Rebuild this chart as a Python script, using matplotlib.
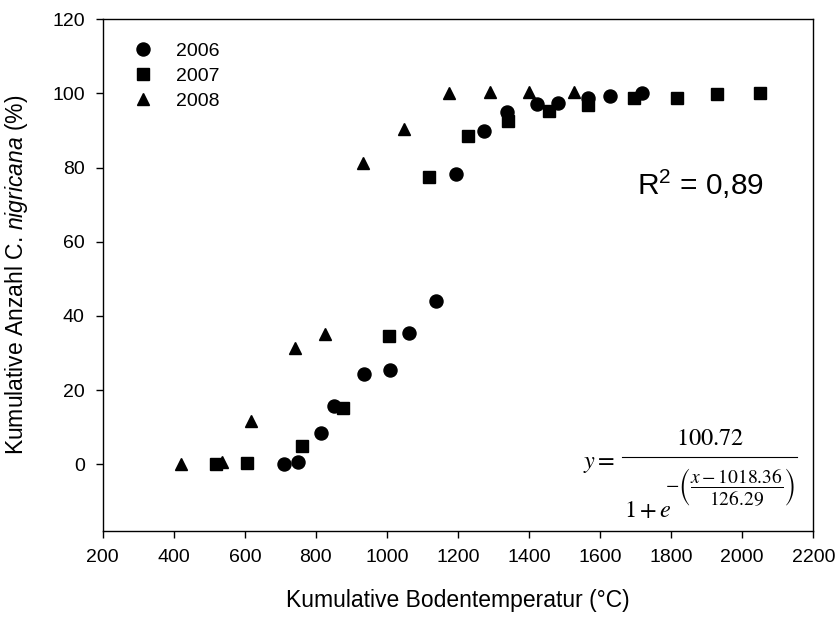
import numpy as np
import matplotlib
matplotlib.use("Agg")
import matplotlib.pyplot as plt
from matplotlib.lines import Line2D

plt.rcParams.update({
    "font.family": "Liberation Sans",
    "font.size": 14,
    "mathtext.fontset": "custom",
    "mathtext.rm": "Liberation Sans",
    "mathtext.it": "Liberation Sans:italic",
    "mathtext.bf": "Liberation Sans:bold",
})

# data
x_2006 = [710, 749, 814, 850, 936, 1008, 1063, 1137, 1193, 1273, 1338, 1421, 1482, 1567, 1629, 1719]
y_2006 = [0, 0.5, 8.5, 15.7, 24.3, 25.3, 35.5, 44, 78.4, 90, 94.9, 97.2, 97.5, 98.7, 99.4, 100.2]

x_2007 = [520, 605, 760, 876, 1007, 1118, 1228, 1342, 1457, 1565, 1696, 1816, 1928, 2049]
y_2007 = [0, 0.4, 4.9, 15.2, 34.6, 77.5, 88.5, 92.5, 95.2, 96.9, 98.7, 98.7, 99.9, 100.1]

x_2008 = [421, 537, 616, 741, 825, 933, 1048, 1174, 1290, 1399, 1526]
y_2008 = [0, 0.6, 11.7, 31.4, 35.2, 81.3, 90.3, 100, 100.3, 100.3, 100.5]

x_ticks = list(range(200, 2201, 200))
y_ticks = list(range(0, 121, 20))

W, H = 836, 619
fig = plt.figure(figsize=(W / 100, H / 100), dpi=100)
ax = fig.add_axes([102.7 / W, 1 - 531 / H, (813.3 - 102.7) / W, (531 - 19.3) / H])


def px(x, y):
    # reference pixel -> figure fraction
    return x / W, 1 - y / H


ax.plot(x_2006, y_2006, "o", ls="none", color="black", ms=9.4, label="2006")
ax.plot(x_2007, y_2007, "s", ls="none", color="black", ms=8.2, label="2007")
ax.plot(x_2008, y_2008, "^", ls="none", color="black", ms=9.2, label="2008")

ax.set_xlim(200, 2200)
ax.set_ylim(-18, 120)
ax.set_xticks(x_ticks)
ax.set_yticks(y_ticks)
ax.tick_params(direction="out", length=5, width=1, labelsize=14)
ax.tick_params(axis="x", pad=8)
ax.tick_params(axis="y", pad=8)
for s in ax.spines.values():
    s.set_linewidth(1)

ax.set_xlabel("Kumulative Bodentemperatur (°C)", fontsize=16.5)
ax.xaxis.set_label_coords(0.5, -0.113)
ax.set_ylabel(r"Kumulative Anzahl C. $\it{nigricana}$ (%)", fontsize=16.5)
ax.yaxis.set_label_coords(-0.103, 0.5)

ax.legend(loc="upper left", frameon=False, fontsize=14, numpoints=1,
          handlelength=1.0, handletextpad=1.2, labelspacing=0.38,
          borderaxespad=0.3, bbox_to_anchor=(0.024, 0.981))

fig.text(*px(637, 195), r"R$^2$ = 0,89", fontsize=21.5, ha="left", va="baseline")

# fitted logistic equation, composed piece by piece
eq = dict(math_fontfamily="stix", color="black")
fig.text(*px(583, 468), r"$y=$", fontsize=17.5, ha="left", va="baseline", **eq)
fig.text(*px(710, 445), r"$100.72$", fontsize=17.5, ha="center", va="baseline", **eq)
fig.add_artist(Line2D([622 / W, 797 / W], [1 - 457 / H] * 2, color="black", lw=0.8))
fig.text(*px(624, 517), r"$1+e$", fontsize=17.5, ha="left", va="baseline", **eq)
fig.text(*px(665, 487), r"$-\left(\dfrac{x-1018.36}{126.29}\right)$",
         fontsize=14, ha="left", va="center", **eq)

fig.savefig("out.png", dpi=100)
